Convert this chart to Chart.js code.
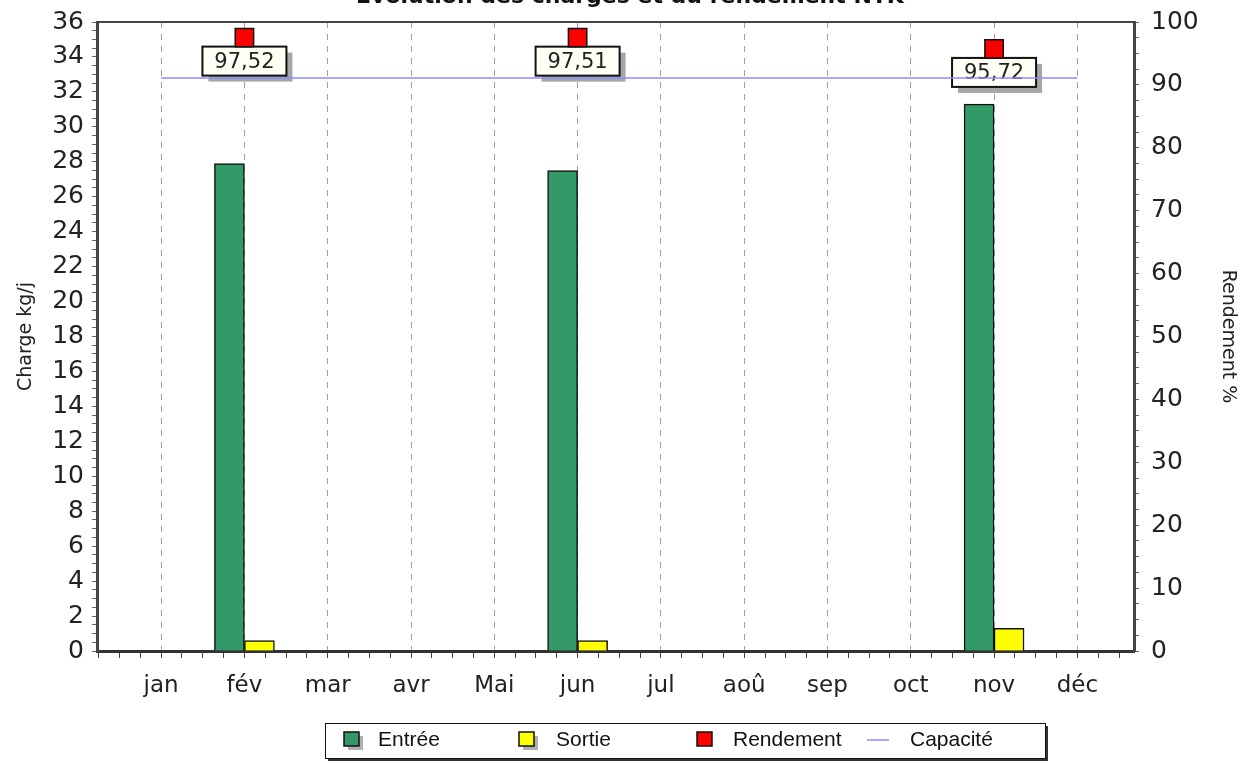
<!DOCTYPE html>
<html>
<head>
<meta charset="utf-8">
<script src="https://cdn.jsdelivr.net/npm/chart.js@4/dist/chart.umd.min.js"></script>
<style>
  html, body { margin: 0; padding: 0; background: #fff; }
  #wrap { width: 1245px; height: 764px; position: relative; }
</style>
</head>
<body>
<div id="wrap"><canvas id="c"></canvas></div>
<script>
// ---- data ----
const months = ["jan", "fév", "mar", "avr", "Mai", "jun", "jul", "aoû", "sep", "oct", "nov", "déc"];
const entree = [null, 27.9, null, null, null, 27.5, null, null, null, null, 31.3, null];
const sortie = [null, 0.6, null, null, null, 0.6, null, null, null, null, 1.3, null];
const rendement = [null, 97.52, null, null, null, 97.51, null, null, null, null, 95.72, null];
const capacite = [32.8, 32.8, 32.8, 32.8, 32.8, 32.8, 32.8, 32.8, 32.8, 32.8, 32.8, 32.8];
const titleText = "Evolution des charges et du rendement NTK";

const GREEN = "#339966";
const YELLOW = "#ffff00";
const RED = "#ff0000";
const LINE = "#8c8cff";

const toXY = (arr) => arr.map((v, i) => ({ x: i + 1, y: v }));

// fixed tick lists (major + minor marks)
function stepTicks(from, to, step) {
  const out = [];
  for (let v = from; v <= to + 1e-9; v += step) out.push({ value: Math.round(v * 100) / 100 });
  return out;
}

// keep the plot frame where the picture has it
function fixWidth(w) {
  return (s) => {
    s.width = w;
    s.paddingTop = 0;
    s.paddingBottom = 0;
  };
}

// labels under the red squares, title, frame top line, legend box
const extras = {
  id: "extras",
  beforeDatasetsDraw(chart) {
    const ctx = chart.ctx;
    const meta = chart.getDatasetMeta(1);
    ctx.save();
    ctx.font = "21px 'DejaVu Sans'";
    ctx.textAlign = "center";
    ctx.textBaseline = "middle";
    meta.data.forEach((pt, i) => {
      const v = rendement[i];
      if (v == null) return;
      const w = 84, h = 29;
      const left = pt.x - w / 2, top = pt.y + 9;
      ctx.fillStyle = "#a6a6a6";
      ctx.fillRect(left + 6, top + 6, w, h);
      ctx.fillStyle = "#fffff6";
      ctx.fillRect(left, top, w, h);
      ctx.strokeStyle = "#111";
      ctx.lineWidth = 2;
      ctx.strokeRect(left, top, w, h);
      ctx.fillStyle = "#222";
      ctx.fillText(v.toFixed(2).replace(".", ","), pt.x, top + h / 2 + 1);
    });
    ctx.restore();
  },
  afterDraw(chart) {
    const ctx = chart.ctx;
    const a = chart.chartArea;
    ctx.save();
    // frame top
    ctx.strokeStyle = "#444";
    ctx.lineWidth = 2;
    ctx.beginPath();
    ctx.moveTo(a.left, a.top);
    ctx.lineTo(a.right, a.top);
    ctx.stroke();

    // title (cut off at the top edge)
    ctx.fillStyle = "#111";
    ctx.font = "bold 22px 'DejaVu Sans'";
    ctx.textAlign = "center";
    ctx.textBaseline = "alphabetic";
    ctx.fillText(titleText, 630, 3);

    // legend
    const bx = 325, by = 723, bw = 720, bh = 35;
    ctx.fillStyle = "#333";
    ctx.fillRect(bx + 3, by + 3, bw, bh);
    ctx.fillStyle = "#fff";
    ctx.fillRect(bx, by, bw, bh);
    ctx.strokeStyle = "#111";
    ctx.lineWidth = 1;
    ctx.strokeRect(bx + 0.5, by + 0.5, bw, bh);

    const ds = chart.data.datasets;
    const items = [
      { d: ds[2], x: 344, tx: 378, shadow: true },
      { d: ds[3], x: 519, tx: 556, shadow: true },
      { d: ds[1], x: 697, tx: 733, shadow: false },
      { d: ds[0], x: 867, tx: 910, line: true }
    ];
    const cy = 740;
    ctx.font = "21px 'Liberation Sans'";
    ctx.textAlign = "left";
    ctx.textBaseline = "middle";
    items.forEach((it) => {
      if (it.line) {
        ctx.strokeStyle = it.d.borderColor;
        ctx.lineWidth = 1.5;
        ctx.beginPath();
        ctx.moveTo(it.x, cy);
        ctx.lineTo(it.x + 22, cy);
        ctx.stroke();
      } else {
        if (it.shadow) {
          ctx.fillStyle = "#b0b0b0";
          ctx.fillRect(it.x + 4, cy - 4, 15, 14);
        }
        ctx.fillStyle = it.d.backgroundColor;
        ctx.fillRect(it.x, cy - 8, 15, 14);
        ctx.strokeStyle = "#111";
        ctx.lineWidth = 1.5;
        ctx.strokeRect(it.x, cy - 8, 15, 14);
      }
      ctx.fillStyle = "#111";
      ctx.fillText(it.d.label, it.tx, cy);
    });
    ctx.restore();
  }
};

const tickFont = { family: "'DejaVu Sans'", size: 25 };

new Chart(document.getElementById("c"), {
  type: "bar",
  data: {
    datasets: [
      {
        type: "line",
        label: "Capacité",
        data: toXY(capacite),
        borderColor: LINE,
        backgroundColor: LINE,
        borderWidth: 1.5,
        pointRadius: 0,
        yAxisID: "y",
        order: 0
      },
      {
        type: "line",
        label: "Rendement",
        data: toXY(rendement),
        showLine: false,
        pointStyle: "rect",
        pointRadius: 13,
        backgroundColor: RED,
        borderColor: "#111",
        borderWidth: 1.5,
        yAxisID: "y2",
        order: 1
      },
      {
        label: "Entrée",
        data: toXY(entree),
        backgroundColor: GREEN,
        borderColor: "#111",
        borderWidth: 1.5,
        barThickness: 30,
        yAxisID: "y",
        order: 2
      },
      {
        label: "Sortie",
        data: toXY(sortie),
        backgroundColor: YELLOW,
        borderColor: "#111",
        borderWidth: 1.5,
        barThickness: 30,
        yAxisID: "y",
        order: 2
      }
    ]
  },
  options: {
    responsive: true,
    maintainAspectRatio: false,
    animation: false,
    layout: { padding: { top: 22, bottom: 42, left: 0, right: 0 } },
    plugins: {
      legend: { display: false },
      tooltip: { enabled: false },
      title: { display: false }
    },
    scales: {
      x: {
        type: "linear",
        position: "bottom",
        min: 0.23,
        max: 12.68,
        offset: false,
        afterBuildTicks: (s) => { s.ticks = stepTicks(0.25, 12.5, 0.25); },
        afterFit: (s) => { s.height = 71; s.paddingLeft = 0; s.paddingRight = 0; },
        ticks: {
          autoSkip: false,
          maxRotation: 0,
          padding: 14,
          color: "#222",
          font: { family: "'DejaVu Sans'", size: 23 },
          callback: (v) => (Number.isInteger(v) ? months[v - 1] : "")
        },
        grid: {
          offset: false,
          drawOnChartArea: true,
          color: (c) => (c.tick && Number.isInteger(c.tick.value) ? "#a0a0a0" : "rgba(0,0,0,0)"),
          tickColor: "#444",
          tickLength: 7,
          lineWidth: 1
        },
        border: { display: true, color: "#333", width: 3, dash: [6, 6] }
      },
      y: {
        position: "left",
        min: 0,
        max: 36,
        afterBuildTicks: (s) => { s.ticks = stepTicks(0, 36, 0.5); },
        afterFit: fixWidth(97),
        ticks: {
          autoSkip: false,
          padding: 8,
          color: "#222",
          font: tickFont,
          callback: (v) => (v % 2 === 0 ? v : "")
        },
        grid: { drawOnChartArea: false, tickColor: "#666", tickLength: 5 },
        border: { color: "#444", width: 3 },
        title: {
          display: true,
          text: "Charge kg/j",
          color: "#222",
          font: { family: "'DejaVu Sans'", size: 19 },
          padding: { top: 15, bottom: 0 }
        }
      },
      y2: {
        position: "right",
        min: 0,
        max: 100,
        afterBuildTicks: (s) => { s.ticks = stepTicks(0, 100, 2.5); },
        afterFit: fixWidth(111),
        ticks: {
          autoSkip: false,
          padding: 12,
          color: "#222",
          font: tickFont,
          callback: (v) => (v % 10 === 0 ? v : "")
        },
        grid: { drawOnChartArea: false, tickColor: "#666", tickLength: 5 },
        border: { color: "#444", width: 3 },
        title: {
          display: true,
          text: "Rendement %",
          color: "#222",
          font: { family: "'DejaVu Sans'", size: 19 },
          padding: { top: 6, bottom: 0 }
        }
      }
    }
  },
  plugins: [extras]
});
</script>
</body>
</html>
